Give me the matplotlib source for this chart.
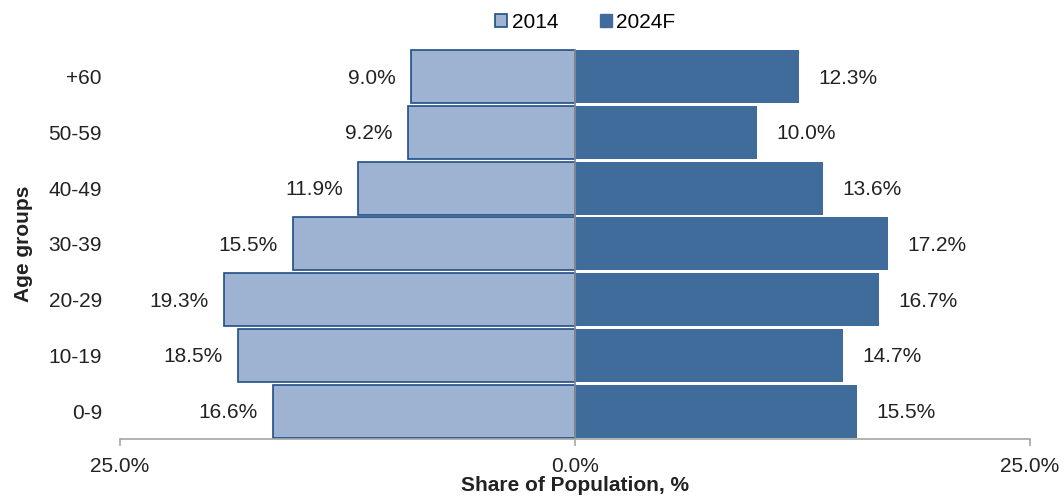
import numpy as np
import matplotlib.pyplot as plt
from matplotlib.patches import Patch

# Data
age_groups = ['0-9', '10-19', '20-29', '30-39', '40-49', '50-59', '+60']
share_2014 = [16.6, 18.5, 19.3, 15.5, 11.9, 9.2, 9.0]
share_2024 = [15.5, 14.7, 16.7, 17.2, 13.6, 10.0, 12.3]
xticks = [-25, 0, 25]
xtick_labels = ['25.0%', '0.0%', '25.0%']

light = '#9db3d1'
dark = '#406c9c'
edge = '#1f4e85'
grey = '#a6a6a6'
fs = 15

plt.rcParams['font.family'] = ['Liberation Sans', 'DejaVu Sans']

fig = plt.figure(figsize=(10.64, 4.97), dpi=100)
ax = fig.add_axes([0.1128, 0.1167, 0.8553, 0.785])

y = np.arange(len(age_groups))
left = -np.array(share_2014)
ax.barh(y, left, height=0.95, color=light, edgecolor=edge, linewidth=1.2)
ax.barh(y, share_2024, height=0.95, color=dark, linewidth=0)

# value labels
for yi, v in zip(y, share_2014):
    ax.annotate(f'{v:.1f}%', (-v, yi), xytext=(-11, -1), textcoords='offset points',
                ha='right', va='center', fontsize=fs, color='#222222')
for yi, v in zip(y, share_2024):
    ax.annotate(f'{v:.1f}%', (v, yi), xytext=(14, -1), textcoords='offset points',
                ha='left', va='center', fontsize=fs, color='#222222')

ax.axvline(0, color='#8c8c8c', linewidth=1.2)

ax.set_xlim(-25, 25)
ax.set_ylim(-0.5, 6.5)
ax.set_xticks(xticks)
ax.set_xticklabels(xtick_labels, fontsize=fs, color='#222222')
ax.set_yticks(y)
ax.set_yticklabels(age_groups, fontsize=fs, color='#222222')
ax.tick_params(axis='y', length=0, pad=13)
ax.tick_params(axis='x', length=5, color=grey, width=1.2, pad=8)

for s in ['top', 'right', 'left']:
    ax.spines[s].set_visible(False)
ax.spines['bottom'].set_color(grey)
ax.spines['bottom'].set_linewidth(1.2)

ax.set_xlabel('Share of Population, %', fontsize=fs, fontweight='bold',
              color='#222222', labelpad=0)
ax.set_ylabel('Age groups', fontsize=fs, fontweight='bold', color='#222222',
              labelpad=11)

handles = [Patch(facecolor=light, edgecolor=edge, linewidth=1.2, label='2014'),
           Patch(facecolor=dark, edgecolor=dark, label='2024F')]
fig.legend(handles=handles, loc='center', bbox_to_anchor=(0.55, 0.955), ncol=2,
           frameon=False, fontsize=fs, handlelength=0.6, handleheight=0.6,
           handletextpad=0.2, columnspacing=2.0)

plt.savefig('out.png', dpi=100)
